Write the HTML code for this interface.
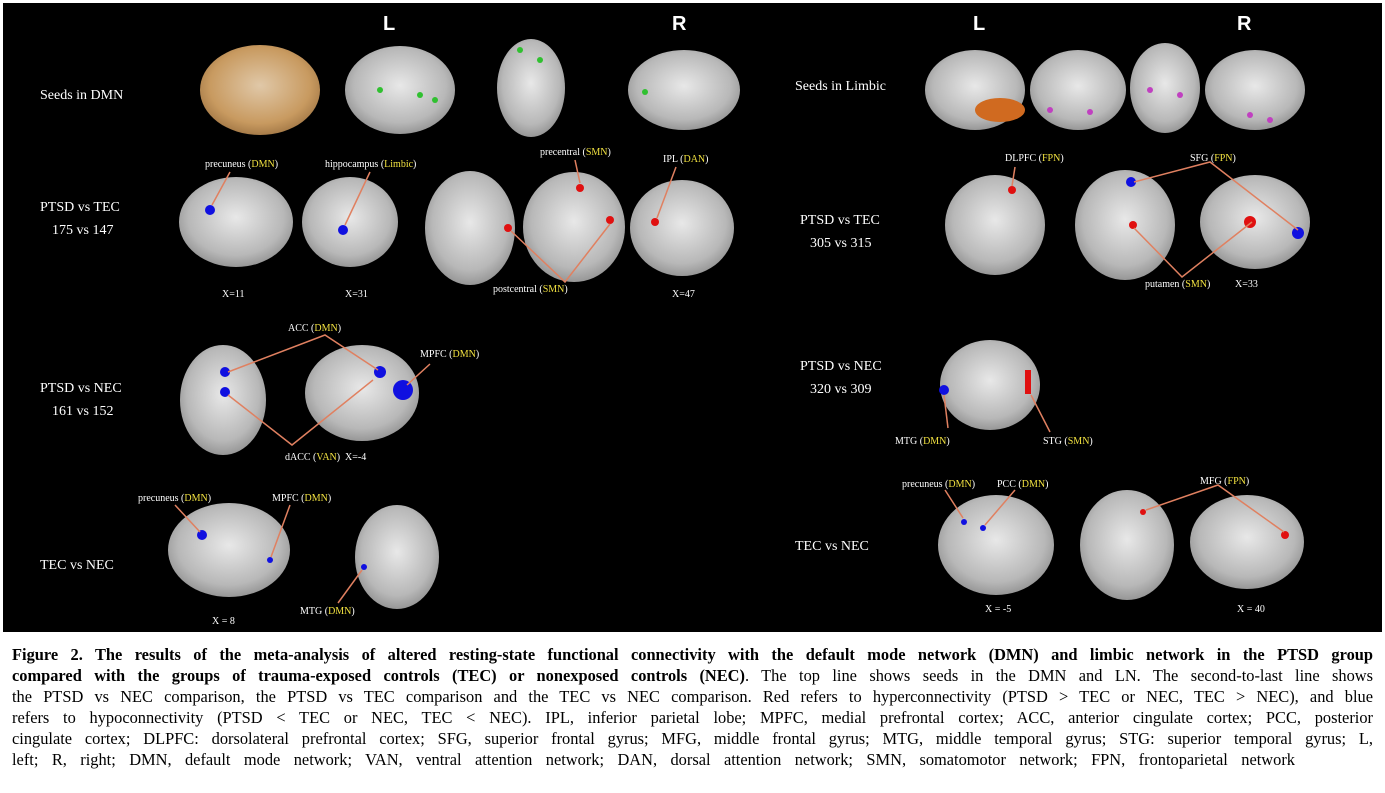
<!DOCTYPE html>
<html><head><meta charset="utf-8"><style>
body{margin:0;background:#fff;width:1385px;height:793px;overflow:hidden;font-family:"Liberation Serif",serif}
#cap{position:absolute;left:12px;top:644px;width:1361px;font-size:16.4px;line-height:21px;color:#000}
#cap div{text-align:justify;text-align-last:justify;white-space:nowrap}
#cap div.last{width:1283px}
svg text{font-family:"Liberation Serif",serif;fill:#fff}
</style></head><body>
<svg width="1385" height="640" style="position:absolute;left:0;top:0">
<defs>
<radialGradient id="g" cx="50%" cy="45%" r="60%"><stop offset="0" stop-color="#e8e8e8"/><stop offset="0.7" stop-color="#b8b8b8"/><stop offset="1" stop-color="#8a8a8a"/></radialGradient>
<radialGradient id="o" cx="50%" cy="45%" r="60%"><stop offset="0" stop-color="#e0c8a8"/><stop offset="0.7" stop-color="#c89a60"/><stop offset="1" stop-color="#9a7040"/></radialGradient>
</defs>
<rect x="3" y="3" width="1379" height="629" fill="#000"/>
<g font-family="Liberation Sans" font-weight="bold" font-size="20">
<text x="383" y="30" style="font-family:'Liberation Sans'">L</text><text x="672" y="30" style="font-family:'Liberation Sans'">R</text>
<text x="973" y="30" style="font-family:'Liberation Sans'">L</text><text x="1237" y="30" style="font-family:'Liberation Sans'">R</text>
</g>
<g fill="url(#g)">
<ellipse cx="260" cy="90" rx="60" ry="45" fill="url(#o)"/>
<ellipse cx="400" cy="90" rx="55" ry="44"/>
<ellipse cx="531" cy="88" rx="34" ry="49"/>
<ellipse cx="684" cy="90" rx="56" ry="40"/>
<ellipse cx="975" cy="90" rx="50" ry="40"/>
<ellipse cx="1078" cy="90" rx="48" ry="40"/>
<ellipse cx="1165" cy="88" rx="35" ry="45"/>
<ellipse cx="1255" cy="90" rx="50" ry="40"/>
<ellipse cx="236" cy="222" rx="57" ry="45"/>
<ellipse cx="350" cy="222" rx="48" ry="45"/>
<ellipse cx="470" cy="228" rx="45" ry="57"/>
<ellipse cx="574" cy="227" rx="51" ry="55"/>
<ellipse cx="682" cy="228" rx="52" ry="48"/>
<ellipse cx="223" cy="400" rx="43" ry="55"/>
<ellipse cx="362" cy="393" rx="57" ry="48"/>
<ellipse cx="229" cy="550" rx="61" ry="47"/>
<ellipse cx="397" cy="557" rx="42" ry="52"/>
<ellipse cx="995" cy="225" rx="50" ry="50"/>
<ellipse cx="1125" cy="225" rx="50" ry="55"/>
<ellipse cx="1255" cy="222" rx="55" ry="47"/>
<ellipse cx="990" cy="385" rx="50" ry="45"/>
<ellipse cx="996" cy="545" rx="58" ry="50"/>
<ellipse cx="1127" cy="545" rx="47" ry="55"/>
<ellipse cx="1247" cy="542" rx="57" ry="47"/>
</g>
<ellipse cx="1000" cy="110" rx="25" ry="12" fill="#d06a20"/>
<g fill="#30c030"><circle cx="380" cy="90" r="3"/><circle cx="420" cy="95" r="3"/><circle cx="435" cy="100" r="3"/><circle cx="520" cy="50" r="3"/><circle cx="540" cy="60" r="3"/><circle cx="645" cy="92" r="3"/></g>
<g fill="#c040c0"><circle cx="1050" cy="110" r="3"/><circle cx="1090" cy="112" r="3"/><circle cx="1150" cy="90" r="3"/><circle cx="1180" cy="95" r="3"/><circle cx="1250" cy="115" r="3"/><circle cx="1270" cy="120" r="3"/></g>
<g fill="#1010e0"><circle cx="210" cy="210" r="5"/><circle cx="343" cy="230" r="5"/><circle cx="225" cy="372" r="5"/><circle cx="225" cy="392" r="5"/><circle cx="380" cy="372" r="6"/><circle cx="403" cy="390" r="10"/><circle cx="202" cy="535" r="5"/><circle cx="270" cy="560" r="3"/><circle cx="364" cy="567" r="3"/><circle cx="1131" cy="182" r="5"/><circle cx="1298" cy="233" r="6"/><circle cx="944" cy="390" r="5"/><circle cx="964" cy="522" r="3"/><circle cx="983" cy="528" r="3"/></g>
<g fill="#e01010"><circle cx="580" cy="188" r="4"/><circle cx="508" cy="228" r="4"/><circle cx="610" cy="220" r="4"/><circle cx="655" cy="222" r="4"/><circle cx="1012" cy="190" r="4"/><circle cx="1133" cy="225" r="4"/><circle cx="1250" cy="222" r="6"/><rect x="1025" y="370" width="6" height="24"/><circle cx="1143" cy="512" r="3"/><circle cx="1285" cy="535" r="4"/></g>
<g stroke="#e08060" stroke-width="1.5" fill="none">
<line x1="230" y1="172" x2="212" y2="205"/><line x1="370" y1="172" x2="345" y2="225"/><line x1="575" y1="160" x2="580" y2="183"/><line x1="676" y1="167" x2="657" y2="218"/>
<polyline points="511,231 565,282 610,224"/>
<line x1="1015" y1="167" x2="1012" y2="186"/><polyline points="1134,182 1210,162 1298,230"/><polyline points="1134,228 1182,277 1252,222"/>
<polyline points="228,372 325,335 378,370"/><line x1="430" y1="364" x2="407" y2="385"/><polyline points="228,395 292,445 373,380"/>
<line x1="175" y1="505" x2="200" y2="532"/><line x1="290" y1="505" x2="271" y2="557"/><line x1="338" y1="603" x2="362" y2="570"/>
<line x1="948" y1="428" x2="944" y2="395"/><line x1="1050" y1="432" x2="1031" y2="395"/>
<line x1="945" y1="490" x2="963" y2="518"/><line x1="1015" y1="490" x2="985" y2="525"/><polyline points="1146,510 1218,485 1284,532"/>
</g>
<g font-size="14">
<text x="40" y="99">Seeds in DMN</text><text x="795" y="90">Seeds in Limbic</text>
<text x="40" y="211">PTSD vs TEC</text><text x="52" y="234">175 vs 147</text>
<text x="40" y="392">PTSD vs NEC</text><text x="52" y="415">161 vs 152</text>
<text x="40" y="569">TEC vs NEC</text>
<text x="800" y="224">PTSD vs TEC</text><text x="810" y="247">305 vs 315</text>
<text x="800" y="370">PTSD vs NEC</text><text x="810" y="393">320 vs 309</text>
<text x="795" y="550">TEC vs NEC</text>
</g>
<g font-size="10">
<text x="205" y="167">precuneus (<tspan style="fill:#f0e040">DMN</tspan>)</text>
<text x="325" y="167">hippocampus (<tspan style="fill:#f0e040">Limbic</tspan>)</text>
<text x="540" y="155">precentral (<tspan style="fill:#f0e040">SMN</tspan>)</text>
<text x="663" y="162">IPL (<tspan style="fill:#f0e040">DAN</tspan>)</text>
<text x="493" y="292">postcentral (<tspan style="fill:#f0e040">SMN</tspan>)</text>
<text x="222" y="297">X=11</text><text x="345" y="297">X=31</text><text x="672" y="297">X=47</text>
<text x="288" y="331">ACC (<tspan style="fill:#f0e040">DMN</tspan>)</text>
<text x="420" y="357">MPFC (<tspan style="fill:#f0e040">DMN</tspan>)</text>
<text x="285" y="460">dACC (<tspan style="fill:#f0e040">VAN</tspan>)</text><text x="345" y="460">X=-4</text>
<text x="138" y="501">precuneus (<tspan style="fill:#f0e040">DMN</tspan>)</text>
<text x="272" y="501">MPFC (<tspan style="fill:#f0e040">DMN</tspan>)</text>
<text x="300" y="614">MTG (<tspan style="fill:#f0e040">DMN</tspan>)</text><text x="212" y="624">X = 8</text>
<text x="1005" y="161">DLPFC (<tspan style="fill:#f0e040">FPN</tspan>)</text>
<text x="1190" y="161">SFG (<tspan style="fill:#f0e040">FPN</tspan>)</text>
<text x="1145" y="287">putamen (<tspan style="fill:#f0e040">SMN</tspan>)</text><text x="1235" y="287">X=33</text>
<text x="895" y="444">MTG (<tspan style="fill:#f0e040">DMN</tspan>)</text><text x="1043" y="444">STG (<tspan style="fill:#f0e040">SMN</tspan>)</text>
<text x="902" y="487">precuneus (<tspan style="fill:#f0e040">DMN</tspan>)</text><text x="997" y="487">PCC (<tspan style="fill:#f0e040">DMN</tspan>)</text>
<text x="1200" y="484">MFG (<tspan style="fill:#f0e040">FPN</tspan>)</text>
<text x="985" y="612">X = -5</text><text x="1237" y="612">X = 40</text>
</g>
</svg>
<div id="cap">
<div><b>Figure 2. The results of the meta-analysis of altered resting-state functional connectivity with the default mode network (DMN) and limbic network in the PTSD group</b></div>
<div><b>compared with the groups of trauma-exposed controls (TEC) or nonexposed controls (NEC)</b>. The top line shows seeds in the DMN and LN. The second-to-last line shows</div>
<div>the PTSD vs NEC comparison, the PTSD vs TEC comparison and the TEC vs NEC comparison. Red refers to hyperconnectivity (PTSD &gt; TEC or NEC, TEC &gt; NEC), and blue</div>
<div>refers to hypoconnectivity (PTSD &lt; TEC or NEC, TEC &lt; NEC). IPL, inferior parietal lobe; MPFC, medial prefrontal cortex; ACC, anterior cingulate cortex; PCC, posterior</div>
<div>cingulate cortex; DLPFC: dorsolateral prefrontal cortex; SFG, superior frontal gyrus; MFG, middle frontal gyrus; MTG, middle temporal gyrus; STG: superior temporal gyrus; L,</div>
<div class="last">left; R, right; DMN, default mode network; VAN, ventral attention network; DAN, dorsal attention network; SMN, somatomotor network; FPN, frontoparietal network</div>
</div>
</body></html>
